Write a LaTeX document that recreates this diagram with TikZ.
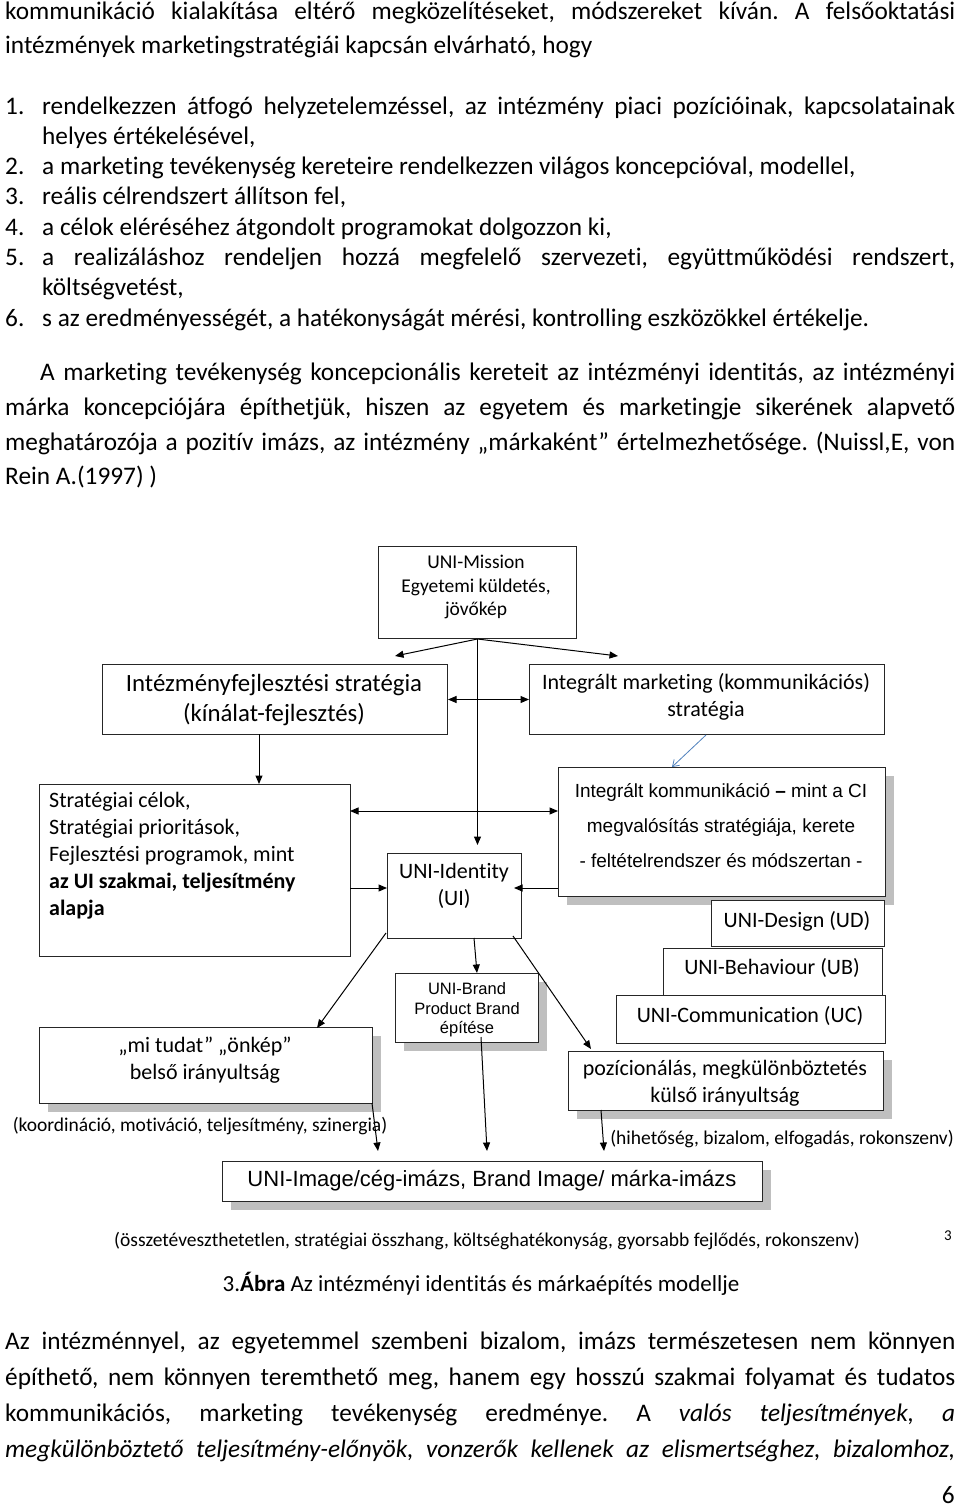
\documentclass[tikz,border=0pt]{standalone}
\usepackage{fontspec}
\setmainfont{Carlito}[Ligatures={TeX,NoCommon}]
\newfontfamily\arialf{Liberation Sans}[Ligatures=TeX]
\usetikzlibrary{arrows.meta,shadows}
\definecolor{arrblue}{RGB}{79,129,189}
\frenchspacing
\tikzset{
  body/.style={inner sep=0pt, anchor=base west, font=\fontsize{25.3}{30}\selectfont},
  bx/.style={draw=black!85, line width=1pt, fill=white, inner sep=0pt, anchor=north west},
  shd/.style={drop shadow={shadow xshift=8pt, shadow yshift=-8pt, fill=black!25, opacity=1}},
  txt/.style={inner sep=0pt, align=center, font=\fontsize{22}{27}\selectfont},
  arr/.style={-{Triangle[length=8.5pt,width=7pt]}, line width=1pt},
  darr/.style={{Triangle[length=8.5pt,width=7pt]}-{Triangle[length=8.5pt,width=7pt]}, line width=1pt},
}
\begin{document}
\begin{tikzpicture}[x=1pt,y=-1pt]
\useasboundingbox[fill=white] (0,0) rectangle (960,1509);

% ---------- upper body text ----------
\node[body] (t1) at (5,20) {\makebox[950pt][s]{kommunikáció kialakítása eltérő megközelítéseket, módszereket kíván. A felsőoktatási}};
\node[body] (t2) at (5,54) {intézmények marketingstratégiái kapcsán elvárható, hogy};
\node[body] (n1) at (5,114) {1.};
\node[body] (l1) at (42,114) {\makebox[913pt][s]{rendelkezzen átfogó helyzetelemzéssel, az intézmény piaci pozícióinak, kapcsolatainak}};
\node[body] (l1b) at (42,144) {helyes értékelésével,};
\node[body] (n2) at (5,174) {2.};
\node[body] (l2) at (42,174) {a marketing tevékenység kereteire rendelkezzen világos koncepcióval, modellel,};
\node[body] (n3) at (5,204) {3.};
\node[body] (l3) at (42,204) {reális célrendszert állítson fel,};
\node[body] (n4) at (5,235) {4.};
\node[body] (l4) at (42,235) {a célok eléréséhez átgondolt programokat dolgozzon ki,};
\node[body] (n5) at (5,265) {5.};
\node[body] (l5) at (42,265) {\makebox[913pt][s]{a realizáláshoz rendeljen hozzá megfelelő szervezeti, együttműködési rendszert,}};
\node[body] (l5b) at (42,295) {költségvetést,};
\node[body] (n6) at (5,326) {6.};
\node[body] (l6) at (42,326) {s az eredményességét, a hatékonyságát mérési, kontrolling eszközökkel értékelje.};

\node[body] (p1) at (40,380) {\makebox[915pt][s]{A marketing tevékenység koncepcionális kereteit az intézményi identitás, az intézményi}};
\node[body] (p2) at (5,415) {\makebox[950pt][s]{márka koncepciójára építhetjük, hiszen az egyetem és marketingje sikerének alapvető}};
\node[body] (p3) at (5,450) {\makebox[950pt][s]{meghatározója a pozitív imázs, az intézmény „márkaként” értelmezhetősége. (Nuissl,E, von}};
\node[body] (p4) at (5,484) {Rein A.(1997) )};

% ---------- diagram boxes ----------
\node[bx, minimum width=198pt, minimum height=92pt] (mis) at (378,546) {};
\node[txt, font=\fontsize{19.5}{23.5}\selectfont] (mistxt) at (476,587) {UNI-Mission\\Egyetemi küldetés,\\jövőkép};

\node[bx, minimum width=345pt, minimum height=70pt] (inst) at (102,664) {};
\node[txt, font=\fontsize{24.8}{30}\selectfont] (insttxt) at (274,700) {Intézményfejlesztési stratégia\\(kínálat-fejlesztés)};

\node[bx, minimum width=355pt, minimum height=70pt] (imk) at (529,664) {};
\node[txt] (imktxt) at (706,697) {Integrált marketing (kommunikációs)\\stratégia};

\node[bx, minimum width=311pt, minimum height=172pt] (strat) at (39,784) {};
\node[txt, align=left, anchor=west] (strattxt) at (49,856) {Stratégiai célok,\\Stratégiai prioritások,\\Fejlesztési programok, mint\\\textbf{az UI szakmai, teljesítmény}\\\textbf{alapja}};

\node[bx, minimum width=134pt, minimum height=85pt] (ui) at (387,853) {};
\node[txt] (uitxt) at (454,885.5) {UNI-Identity\\(UI)};

\node[bx, shd, minimum width=327pt, minimum height=129pt] (ik) at (558,767) {};
\node[txt, font=\arialf\fontsize{19}{35}\selectfont] (iktxt) at (721,826) {Integrált kommunikáció \textbf{–} mint a CI\\megvalósítás stratégiája, kerete\\- feltételrendszer és módszertan -};

\node[bx, minimum width=173pt, minimum height=46pt] (ud) at (711,900) {};
\node[txt] (udtxt) at (797,921) {UNI-Design (UD)};

\node[bx, minimum width=219pt, minimum height=47pt] (ub) at (663,948) {};
\node[txt] (ubtxt) at (772,968) {UNI-Behaviour (UB)};

\node[bx, minimum width=269pt, minimum height=48pt] (uc) at (616,995) {};
\node[txt] (uctxt) at (750,1016) {UNI-Communication (UC)};

\node[bx, shd, minimum width=143pt, minimum height=69pt] (brand) at (395,973) {};
\node[txt, font=\arialf\fontsize{16.5}{19.5}\selectfont] (brandtxt) at (467,1010) {UNI-Brand\\Product Brand\\építése};

\node[bx, shd, minimum width=333pt, minimum height=76pt] (mit) at (39,1027) {};
\node[txt] (mittxt) at (205,1060) {„mi tudat” „önkép”\\belső irányultság};

\node[bx, shd, minimum width=315pt, minimum height=59pt] (poz) at (568,1051) {};
\node[txt] (poztxt) at (725,1083) {pozícionálás, megkülönböztetés\\külső irányultság};

\node[txt, font=\fontsize{19.5}{23}\selectfont] (koord) at (200,1126) {(koordináció, motiváció, teljesítmény, szinergia)};
\node[txt, font=\fontsize{19.5}{23}\selectfont] (hihet) at (782,1139) {(hihetőség, bizalom, elfogadás, rokonszenv)};

\node[bx, shd, minimum width=540pt, minimum height=40pt] (img) at (222,1161) {};
\node[txt, font=\arialf\fontsize{22}{26}\selectfont] (imgtxt) at (492,1181) {UNI-Image/cég-imázs, Brand Image/ márka-imázs};

\node[txt, font=\fontsize{19.5}{23}\selectfont] (osszet) at (487,1241) {(összetéveszthetetlen, stratégiai összhang, költséghatékonyság, gyorsabb fejlődés, rokonszenv)};
\node[txt, font=\fontsize{15}{18}\selectfont] (fn) at (948,1236) {3};
\node[txt, font=\fontsize{23}{27}\selectfont] (capt) at (481,1284) {3.\textbf{Ábra} Az intézményi identitás és márkaépítés modellje};

% ---------- connectors ----------
\coordinate (ml) at (395,656);
\coordinate (mr) at (618,656);
\draw[arr] (mis.south) -- (ml);
\draw[arr] (mis.south) -- (mr);
\draw[arr, shorten >=8pt] (mis.south) -- (mis.south |- ui.north);
\draw[darr] (inst.east) -- (imk.west);
\coordinate (is) at (259,734);
\draw[arr] (is) -- (is |- strat.north);
\coordinate (bs) at (706,735);
\coordinate (be) at (672,767);
\draw[-{Straight Barb[length=6pt,width=8pt]}, arrblue, line width=0.8pt] (bs) -- (be);
\coordinate (h1) at (350,811);
\coordinate (h2) at (558,811);
\draw[darr] (h1) -- (h2);
\coordinate (s1) at (350,888);
\coordinate (s2) at (387,888);
\draw[arr] (s1) -- (s2);
\coordinate (k1) at (558,888);
\coordinate (k2) at (514,888);
\draw[arr] (k1) -- (k2);
\coordinate (u1) at (474,938);
\coordinate (u1e) at (477,973);
\draw[arr] (u1) -- (u1e);
\coordinate (u2) at (386,933);
\coordinate (u2e) at (317,1028);
\draw[arr] (u2) -- (u2e);
\coordinate (u3) at (513,936);
\coordinate (u3e) at (591,1049);
\draw[arr] (u3) -- (u3e);
\coordinate (m1) at (372,1103);
\coordinate (m1e) at (378,1151);
\draw[arr] (m1) -- (m1e);
\coordinate (b1) at (481,1037);
\coordinate (b1e) at (487,1151);
\draw[arr] (b1) -- (b1e);
\coordinate (pz1) at (601,1110);
\coordinate (pz1e) at (604,1151);
\draw[arr] (pz1) -- (pz1e);

% ---------- lower body text ----------
\node[body] (q1) at (5,1349) {\makebox[950pt][s]{Az intézménnyel, az egyetemmel szembeni bizalom, imázs természetesen nem könnyen}};
\node[body] (q2) at (5,1385) {\makebox[950pt][s]{építhető, nem könnyen teremthető meg, hanem egy hosszú szakmai folyamat és tudatos}};
\node[body] (q3) at (5,1421) {\makebox[950pt][s]{kommunikációs, marketing tevékenység eredménye. A \textit{valós teljesítmények, a}}};
\node[body] (q4) at (5,1457) {\makebox[950pt][s]{\textit{megkülönböztető teljesítmény-előnyök, vonzerők kellenek az elismertséghez, bizalomhoz,}}};
\node[body, anchor=base east] (pg) at (955,1503) {6};
\end{tikzpicture}
\end{document}
